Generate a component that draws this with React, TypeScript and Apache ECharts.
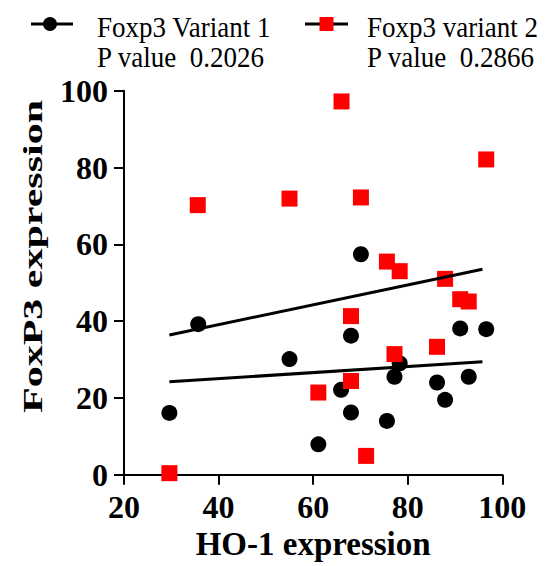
import React, { useEffect, useRef } from "react";
import * as echarts from "echarts";

// HO-1 expression (x) and FoxP3 expression (y) for each variant
const variant1X = [29.6, 35.7, 55.0, 61.1, 65.9, 68.0, 68.0, 70.1, 75.6, 77.2, 78.3, 86.2, 87.9, 91.1, 92.9, 96.6];
const variant1Y = [16.1, 39.2, 30.1, 7.9, 22.1, 36.2, 16.2, 57.4, 14.0, 25.5, 29.0, 24.0, 19.5, 38.1, 25.5, 37.9];
const variant2X = [29.6, 35.6, 55.0, 61.1, 66.0, 68.0, 68.0, 70.1, 71.2, 75.6, 77.2, 78.3, 86.2, 87.9, 91.1, 92.9, 96.6];
const variant2Y = [0.4, 70.2, 71.9, 21.4, 97.2, 41.3, 24.4, 72.2, 4.9, 55.5, 31.4, 53.0, 33.3, 51.0, 45.7, 45.1, 82.1];

// regression line end points (x, y)
const fit1X = [29.6, 95.8];
const fit1Y = [24.2, 29.4];
const fit2X = [29.6, 95.8];
const fit2Y = [36.4, 53.5];

const seriesNames = ["Foxp3 Variant 1", "Foxp3 variant 2"];
const pValues = ["0.2026", "0.2866"];
const xTicks = [20, 40, 60, 80, 100];
const yTicks = [0, 20, 40, 60, 80, 100];
const xTitle = "HO-1 expression";
const yTitle = "FoxP3 expression";

const zip = (xs: number[], ys: number[]) => xs.map((x, i) => [x, ys[i]]);

const FONT = "Liberation Serif";

export default function App() {
  const ref = useRef<HTMLDivElement>(null);
  useEffect(() => {
    if (!ref.current) return;
    const chart = echarts.init(ref.current, undefined, { renderer: "svg" });
    const axisCommon = {
      type: "value" as const,
      splitLine: { show: false },
      axisLine: { show: true, onZero: false, lineStyle: { color: "#000", width: 2 } },
      axisTick: { show: true, length: 10, lineStyle: { color: "#000", width: 2 } },
      axisLabel: {
        color: "#000",
        fontSize: 32,
        fontWeight: "bold" as const,
        fontFamily: FONT,
        margin: 16,
      },
    };
    const legendText = (x: number, y: number, text: string) => ({
      type: "text",
      x,
      y,
      scaleY: 1.1,
      style: {
        text,
        fontFamily: FONT,
        fontSize: 27,
        fill: "#000",
        align: "left",
        verticalAlign: "middle",
      },
    });
    chart.setOption({
      animation: false,
      backgroundColor: "#fff",
      grid: { left: 124, top: 90.7, width: 378.3, height: 384, containLabel: false },
      xAxis: {
        ...axisCommon,
        min: xTicks[0],
        max: xTicks[xTicks.length - 1],
        interval: xTicks[1] - xTicks[0],
        name: xTitle,
        nameLocation: "middle",
        nameGap: 52,
        nameTextStyle: { color: "#000", fontSize: 33, fontWeight: "bold", fontFamily: FONT },
      },
      yAxis: {
        ...axisCommon,
        min: yTicks[0],
        max: yTicks[yTicks.length - 1],
        interval: yTicks[1] - yTicks[0],
      },
      graphic: [
        {
          type: "text",
          x: 33,
          y: 256.5,
          rotation: Math.PI / 2,
          scaleX: 1.5,
          style: {
            text: yTitle,
            fontFamily: FONT,
            fontSize: 28,
            fontWeight: "bold",
            fill: "#000",
            align: "center",
            verticalAlign: "middle",
          },
        },
        { type: "line", shape: { x1: 31, y1: 24, x2: 73, y2: 24 }, style: { stroke: "#000", lineWidth: 3 } },
        { type: "circle", shape: { cx: 50, cy: 24, r: 7 }, style: { fill: "#000" } },
        legendText(97, 27.5, seriesNames[0]),
        legendText(97, 57, "P value  " + pValues[0]),
        { type: "line", shape: { x1: 305, y1: 24, x2: 348, y2: 24 }, style: { stroke: "#000", lineWidth: 3 } },
        { type: "rect", shape: { x: 319.5, y: 17, width: 14, height: 14 }, style: { fill: "#ff0000" } },
        legendText(367, 27.5, seriesNames[1]),
        legendText(367, 57, "P value  " + pValues[1]),
      ],
      series: [
        {
          name: seriesNames[0],
          type: "scatter",
          symbol: "circle",
          symbolSize: 16,
          itemStyle: { color: "#000", opacity: 1 },
          data: zip(variant1X, variant1Y),
        },
        {
          name: seriesNames[1],
          type: "scatter",
          symbol: "rect",
          symbolSize: 16,
          itemStyle: { color: "#ff0000", opacity: 1 },
          data: zip(variant2X, variant2Y),
        },
        {
          type: "line",
          data: zip(fit1X, fit1Y),
          symbol: "none",
          lineStyle: { color: "#000", width: 3 },
        },
        {
          type: "line",
          data: zip(fit2X, fit2Y),
          symbol: "none",
          lineStyle: { color: "#000", width: 3 },
        },
      ],
    });
    return () => chart.dispose();
  }, []);
  return <div ref={ref} style={{ width: 556, height: 566, position: "absolute", left: 0, top: 0 }} />;
}
